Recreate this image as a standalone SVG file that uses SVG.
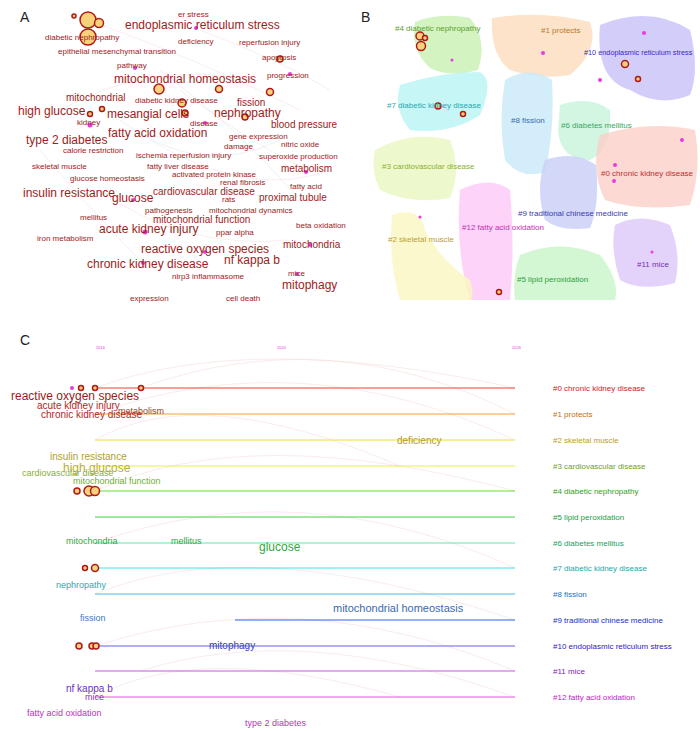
<svg xmlns="http://www.w3.org/2000/svg" width="700" height="731" viewBox="0 0 700 731">
<style>
text{font-family:"Liberation Sans",Arial,sans-serif}
.pl{font-size:14px;fill:#222}
.a{fill:#a01a1a;font-size:8px}
.a2{fill:#a01a1a;font-size:10px}
.a3{fill:#a01a1a;font-size:12px}
.bl{font-size:8px}
.tl{font-size:8px}
.arc{fill:none;stroke-width:0.5;opacity:0.35}
.big{fill:#f7d27a;stroke:#b01818;stroke-width:1.5}
.pk{fill:#e83ce0}
</style>
<rect width="700" height="731" fill="#fff"/>
<!-- Panel A -->
<g id="panelA">
<text class="pl" x="20" y="22">A</text>
<g class="arc" stroke="#e8a0a0">
<path d="M88 20 Q200 60 300 110"/><path d="M60 110 Q150 60 250 80"/><path d="M150 140 Q250 200 330 170"/><path d="M100 190 Q180 250 290 240"/><path d="M180 90 Q260 150 310 170"/><path d="M40 150 Q100 220 140 260"/><path d="M200 30 Q280 60 330 90"/>
</g>
<g class="arc" stroke="#a0b0e8"><path d="M120 120 Q200 180 280 140"/><path d="M160 70 Q240 130 300 200"/></g>
<circle class="big" cx="88" cy="20" r="8"/><circle class="big" cx="99" cy="23" r="4.5"/><circle class="big" cx="88" cy="37" r="8"/><circle class="big" cx="74" cy="16" r="2"/>
<circle class="big" cx="159" cy="89" r="5"/><circle class="big" cx="182" cy="103" r="4"/><circle class="big" cx="185" cy="113" r="3"/><circle class="big" cx="219" cy="89" r="3.5"/><circle class="big" cx="270" cy="92" r="3.5"/><circle class="big" cx="245" cy="117" r="3"/><circle class="big" cx="280" cy="59" r="3"/><circle class="big" cx="102" cy="109" r="2.5"/><circle class="big" cx="90" cy="114" r="2.5"/>
<circle class="pk" cx="90" cy="125" r="2.5"/><circle class="pk" cx="196" cy="28" r="2"/><circle class="pk" cx="135" cy="68" r="2"/><circle class="pk" cx="205" cy="123" r="2"/><circle class="pk" cx="306" cy="172" r="2"/><circle class="pk" cx="145" cy="232" r="2.5"/><circle class="pk" cx="205" cy="252" r="2"/><circle class="pk" cx="143" cy="263" r="2"/><circle class="pk" cx="297" cy="274" r="2"/><circle class="pk" cx="310" cy="245" r="2"/><circle class="pk" cx="290" cy="74" r="2"/><circle class="pk" cx="133" cy="200" r="2"/>
<text class="a" x="178" y="17">er stress</text>
<text class="a3" x="125" y="29">endoplasmic reticulum stress</text>
<text class="a" x="45" y="40">diabetic nephropathy</text>
<text class="a" x="178" y="44">deficiency</text>
<text class="a" x="239" y="45">reperfusion injury</text>
<text class="a" x="58" y="54">epithelial mesenchymal transition</text>
<text class="a" x="262" y="60">apoptosis</text>
<text class="a" x="117" y="68">pathway</text>
<text class="a" x="267" y="78">progression</text>
<text class="a3" x="114" y="83">mitochondrial homeostasis</text>
<text class="a2" x="66" y="101">mitochondrial</text>
<text class="a" x="135" y="103">diabetic kidney disease</text>
<text class="a2" x="237" y="106">fission</text>
<text class="a3" x="18" y="115">high glucose</text>
<text class="a3" x="107" y="118">mesangial cells</text>
<text class="a3" x="214" y="117">nephropathy</text>
<text class="a" x="77" y="125">kidney</text>
<text class="a" x="190" y="126">disease</text>
<text class="a2" x="271" y="128">blood pressure</text>
<text class="a3" x="108" y="137">fatty acid oxidation</text>
<text class="a" x="229" y="139">gene expression</text>
<text class="a3" x="26" y="144">type 2 diabetes</text>
<text class="a" x="224" y="149">damage</text>
<text class="a" x="281" y="147">nitric oxide</text>
<text class="a" x="63" y="153">calorie restriction</text>
<text class="a" x="136" y="158">ischemia reperfusion injury</text>
<text class="a" x="259" y="159">superoxide production</text>
<text class="a" x="32" y="169">skeletal muscle</text>
<text class="a" x="147" y="169">fatty liver disease</text>
<text class="a2" x="281" y="172">metabolism</text>
<text class="a" x="172" y="177">activated protein kinase</text>
<text class="a" x="70" y="181">glucose homeostasis</text>
<text class="a" x="220" y="185">renal fibrosis</text>
<text class="a" x="290" y="189">fatty acid</text>
<text class="a2" x="153" y="195">cardiovascular disease</text>
<text class="a3" x="23" y="197">insulin resistance</text>
<text class="a3" x="112" y="202">glucose</text>
<text class="a" x="222" y="202">rats</text>
<text class="a2" x="259" y="201">proximal tubule</text>
<text class="a" x="145" y="213">pathogenesis</text>
<text class="a" x="209" y="213">mitochondrial dynamics</text>
<text class="a" x="80" y="220">mellitus</text>
<text class="a2" x="153" y="223">mitochondrial function</text>
<text class="a" x="296" y="228">beta oxidation</text>
<text class="a3" x="99" y="233">acute kidney injury</text>
<text class="a" x="216" y="235">ppar alpha</text>
<text class="a" x="37" y="241">iron metabolism</text>
<text class="a2" x="283" y="248">mitochondria</text>
<text class="a3" x="141" y="253">reactive oxygen species</text>
<text class="a3" x="224" y="264">nf kappa b</text>
<text class="a3" x="87" y="268">chronic kidney disease</text>
<text class="a" x="172" y="279">nlrp3 inflammasome</text>
<text class="a" x="288" y="276">mice</text>
<text class="a3" x="282" y="289">mitophagy</text>
<text class="a" x="130" y="301">expression</text>
<text class="a" x="226" y="301">cell death</text>
</g>
<!-- Panel B -->
<g id="panelB">
<text class="pl" x="361" y="22">B</text>
<path id="c4" d="M415 22 Q440 12 470 18 Q488 40 478 70 Q450 78 430 68 Q410 50 415 22Z" fill="#c8f0b0" opacity="0.8"/>
<path id="c1" d="M492 18 Q540 10 590 22 Q600 50 570 75 Q540 80 510 70 Q490 55 492 18Z" fill="#fbdcbc" opacity="0.8"/>
<path id="c10" d="M600 25 Q650 5 690 30 Q700 70 690 95 Q660 108 630 90 Q595 80 600 25Z" fill="#c8c0f8" opacity="0.8"/>
<path id="c7" d="M400 85 Q440 72 480 72 Q495 80 480 115 Q450 135 410 130 Q393 110 400 85Z" fill="#b8f4f4" opacity="0.8"/>
<path id="c8" d="M505 80 Q530 65 552 80 Q555 130 545 172 Q520 180 505 160 Q498 120 505 80Z" fill="#c8e8fa" opacity="0.8"/>
<path id="c6" d="M560 105 Q590 95 610 110 Q612 150 590 160 Q560 160 558 130Z" fill="#c8f4dc" opacity="0.8"/>
<path id="c3" d="M375 150 Q410 130 450 140 Q462 170 450 198 Q410 205 380 190 Q370 170 375 150Z" fill="#eaf6c0" opacity="0.8"/>
<path id="c0" d="M600 135 Q650 120 695 130 Q702 170 690 205 Q640 212 605 200 Q590 170 600 135Z" fill="#fbd0c8" opacity="0.8"/>
<path id="c9" d="M545 160 Q575 150 596 165 Q600 205 590 228 Q560 232 545 220 Q535 190 545 160Z" fill="#c8cef6" opacity="0.8"/>
<path id="c12" d="M460 190 Q490 175 510 190 Q515 250 510 300 L470 300 Q455 250 460 190Z" fill="#fcc8f8" opacity="0.8"/>
<path id="c2" d="M392 215 Q420 205 425 230 Q440 260 470 280 Q475 298 470 300 L400 300 Q388 260 392 215Z" fill="#fbf6c0" opacity="0.8"/>
<path id="c5" d="M520 255 Q560 238 600 255 Q620 280 615 300 L515 300 Q512 275 520 255Z" fill="#c8f4c8" opacity="0.8"/>
<path id="c11" d="M615 225 Q640 212 670 225 Q682 255 675 283 Q640 292 620 280 Q610 250 615 225Z" fill="#dcc8fa" opacity="0.8"/>
<circle class="big" cx="420" cy="36" r="4"/><circle class="big" cx="421" cy="46" r="4.5"/><circle class="big" cx="425" cy="38" r="2.5"/>
<circle class="big" cx="625" cy="64" r="3.5"/><circle class="big" cx="638" cy="79" r="2.5"/><circle class="big" cx="438" cy="106" r="3"/><circle class="big" cx="463" cy="114" r="2.5"/><circle class="big" cx="499" cy="292" r="2.5"/>
<circle class="pk" cx="543" cy="53" r="2"/><circle class="pk" cx="600" cy="80" r="2"/><circle class="pk" cx="644" cy="33" r="2"/><circle class="pk" cx="615" cy="165" r="2"/><circle class="pk" cx="614" cy="181" r="2"/><circle class="pk" cx="682" cy="140" r="2"/><circle class="pk" cx="452" cy="60" r="1.5"/><circle class="pk" cx="420" cy="217" r="1.5"/><circle class="pk" cx="652" cy="252" r="1.5"/>
<text class="bl" x="395" y="31" fill="#5ba030">#4 diabetic nephropathy</text>
<text class="bl" x="541" y="33" fill="#b87a30">#1 protects</text>
<text x="584" y="55" font-size="7.3" fill="#3a2ac0">#10 endoplasmic reticulum stress</text>
<text class="bl" x="387" y="108" fill="#2aa8b0">#7 diabetic kidney disease</text>
<text class="bl" x="511" y="123" fill="#3a6ab0">#8 fission</text>
<text class="bl" x="561" y="128" fill="#3aa860">#6 diabetes mellitus</text>
<text class="bl" x="382" y="169" fill="#8ab030">#3 cardiovascular disease</text>
<text class="bl" x="601" y="176" fill="#c03030">#0 chronic kidney disease</text>
<text class="bl" x="518" y="216" fill="#3a3ab0">#9 traditional chinese medicine</text>
<text class="bl" x="462" y="230" fill="#c030b0">#12 fatty acid oxidation</text>
<text class="bl" x="388" y="242" fill="#b8a030">#2 skeletal muscle</text>
<text class="bl" x="637" y="267" fill="#7a30b0">#11 mice</text>
<text class="bl" x="517" y="282" fill="#30a040">#5 lipid peroxidation</text>
</g>
<!-- Panel C -->
<g id="panelC">
<text class="pl" x="20" y="345">C</text>
<text x="96" y="349" font-size="4" fill="#e83ce0">2016</text>
<text x="277" y="349" font-size="4" fill="#e83ce0">2020</text>
<text x="512" y="349" font-size="4" fill="#e83ce0">2026</text>
<g class="arc" stroke="#e89090">
<path d="M95 388 Q250 330 515 388"/><path d="M140 388 Q330 320 515 414"/><path d="M95 414 Q300 340 515 440"/><path d="M95 440 Q200 380 400 466"/><path d="M95 491 Q250 420 515 491"/><path d="M95 543 Q300 470 515 568"/><path d="M95 594 Q250 530 515 620"/><path d="M95 646 Q300 580 515 671"/><path d="M140 671 Q300 620 515 697"/><path d="M95 697 Q200 640 400 697"/>
</g>
<g id="connectors">
<line x1="95" y1="388" x2="515" y2="388" stroke="#f04030" stroke-width="1"/>
<line x1="95" y1="414" x2="515" y2="414" stroke="#f0a030"/>
<line x1="95" y1="440" x2="515" y2="440" stroke="#f0e030"/>
<line x1="95" y1="466" x2="515" y2="466" stroke="#e8f040"/>
<line x1="95" y1="491" x2="515" y2="491" stroke="#60e030"/>
<line x1="95" y1="517" x2="515" y2="517" stroke="#40d040"/>
<line x1="95" y1="543" x2="515" y2="543" stroke="#60e8b0"/>
<line x1="95" y1="568" x2="515" y2="568" stroke="#40e0f0"/>
<line x1="95" y1="594" x2="515" y2="594" stroke="#40c0f0"/>
<line x1="235" y1="620" x2="515" y2="620" stroke="#3060f0"/>
<line x1="95" y1="646" x2="515" y2="646" stroke="#6060f0"/>
<line x1="95" y1="671" x2="515" y2="671" stroke="#d050f0"/>
<line x1="95" y1="697" x2="515" y2="697" stroke="#f050e0"/>
</g>
<circle class="pk" cx="72" cy="388" r="2"/><circle class="big" cx="81" cy="388" r="2.5"/><circle class="big" cx="95" cy="388" r="2.5"/><circle class="big" cx="141" cy="388" r="2.5"/>
<circle class="big" cx="77" cy="491" r="3"/><circle class="big" cx="89" cy="491" r="5"/><circle class="big" cx="95" cy="491" r="4.5"/>
<circle class="big" cx="85" cy="568" r="2.5"/><circle class="big" cx="95" cy="568" r="3.5"/><circle class="big" cx="79" cy="646" r="3"/><circle class="big" cx="92" cy="646" r="3"/><circle class="big" cx="96" cy="646" r="3"/>
<text class="a3" x="11" y="400">reactive oxygen species</text>
<text x="37" y="409" font-size="10" fill="#b02828">acute kidney injury</text>
<text x="41" y="418" font-size="10" fill="#b02828">chronic kidney disease</text>
<text x="118" y="414" font-size="9" fill="#a83a1a">metabolism</text>
<text x="397" y="444" font-size="10" fill="#b89a20">deficiency</text>
<text x="50" y="460" font-size="10" fill="#b0a030">insulin resistance</text>
<text x="63" y="472" font-size="12" fill="#b8b030">high glucose</text>
<text x="22" y="476" font-size="9" fill="#8ab030">cardiovascular disease</text>
<text x="73" y="484" font-size="9" fill="#70b030">mitochondrial function</text>
<text x="66" y="544" font-size="9" fill="#30a840">mitochondria</text>
<text x="171" y="544" font-size="9" fill="#30a840">mellitus</text>
<text x="259" y="551" font-size="12" fill="#30a840">glucose</text>
<text x="56" y="588" font-size="9" fill="#30a8a8">nephropathy</text>
<text x="80" y="621" font-size="9" fill="#3a7ac0">fission</text>
<text x="333" y="612" font-size="11" fill="#3a6ab0">mitochondrial homeostasis</text>
<text x="209" y="649" font-size="10" fill="#3a40c0">mitophagy</text>
<text x="66" y="692" font-size="10" fill="#6a30c0">nf kappa b</text>
<text x="85" y="700" font-size="9" fill="#8a30c0">mice</text>
<text x="27" y="716" font-size="9" fill="#c030c0">fatty acid oxidation</text>
<text x="245" y="726" font-size="9" fill="#c030c0">type 2 diabetes</text>
<text class="tl" x="553" y="391" fill="#d02020">#0 chronic kidney disease</text>
<text class="tl" x="553" y="417" fill="#c07020">#1 protects</text>
<text class="tl" x="553" y="443" fill="#b8a020">#2 skeletal muscle</text>
<text class="tl" x="553" y="469" fill="#70a020">#3 cardiovascular disease</text>
<text class="tl" x="553" y="494" fill="#30a020">#4 diabetic nephropathy</text>
<text class="tl" x="553" y="520" fill="#20a040">#5 lipid peroxidation</text>
<text class="tl" x="553" y="546" fill="#20a060">#6 diabetes mellitus</text>
<text class="tl" x="553" y="571" fill="#20a8a8">#7 diabetic kidney disease</text>
<text class="tl" x="553" y="597" fill="#2070c0">#8 fission</text>
<text class="tl" x="553" y="623" fill="#2030c0">#9 traditional chinese medicine</text>
<text class="tl" x="553" y="649" fill="#3020c0">#10 endoplasmic reticulum stress</text>
<text class="tl" x="553" y="674" fill="#8020c0">#11 mice</text>
<text class="tl" x="553" y="700" fill="#c020c0">#12 fatty acid oxidation</text>
</g>
</svg>
